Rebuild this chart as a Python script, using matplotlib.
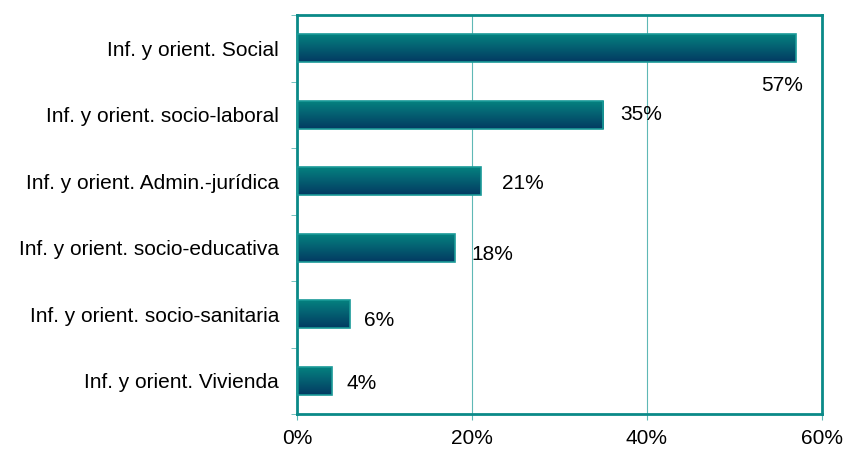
import numpy as np
import matplotlib.pyplot as plt
from matplotlib.colors import LinearSegmentedColormap
from matplotlib.ticker import FuncFormatter

plt.rcParams['font.family'] = ['Liberation Sans', 'DejaVu Sans']

categories = ["Inf. y orient. Social", "Inf. y orient. socio-laboral",
              "Inf. y orient. Admin.-jurídica", "Inf. y orient. socio-educativa",
              "Inf. y orient. socio-sanitaria", "Inf. y orient. Vivienda"]
values = [57, 35, 21, 18, 6, 4]
labels = ["57%", "35%", "21%", "18%", "6%", "4%"]
xticks = [0, 20, 40, 60]

# label placement offsets (data units) imitating the original layout
lab_dx = [-3.9, 1.9, 2.4, 1.9, 1.7, 1.6]
lab_dy = [0.56, 0.0, 0.03, 0.10, 0.10, 0.04]

teal = "#0a8a88"
cmap = LinearSegmentedColormap.from_list("bar", ["#05817f", "#033a62"])

fig = plt.figure(figsize=(8.46, 4.5), dpi=100)
ax = fig.add_axes([297 / 846, 36 / 450, 525 / 846, 399 / 450])

y = np.arange(len(categories))
bars = ax.barh(y, values, height=0.42, color="none", edgecolor="#1a9a98", linewidth=1.2, zorder=3)
grad = np.linspace(0, 1, 100).reshape(-1, 1)
for b in bars:
    x0, y0 = b.get_x(), b.get_y()
    w, h = b.get_width(), b.get_height()
    im = ax.imshow(grad, cmap=cmap, aspect="auto", extent=[x0, x0 + w, y0 + h, y0],
                   origin="upper", zorder=2)
    im.set_clip_path(b)

for yi, v, lab, dx, dy in zip(y, values, labels, lab_dx, lab_dy):
    ax.text(v + dx, yi + dy, lab, va="center", ha="left", fontsize=15)

ax.set_xlim(0, 60)
ax.set_ylim(len(categories) - 0.5, -0.5)
ax.set_xticks(xticks)
ax.xaxis.set_major_formatter(FuncFormatter(lambda v, p: f"{v:.0f}%"))
ax.set_yticks(y)
ax.set_yticklabels(categories)
ax.set_yticks(np.arange(-0.5, len(categories), 1), minor=True)
ax.tick_params(axis="y", which="major", length=0, pad=13, labelsize=15)
ax.tick_params(axis="y", which="minor", length=4, color="#5fb8b6")
ax.tick_params(axis="x", length=4, color="#5fb8b6", labelsize=15, pad=7)
ax.grid(axis="x", color="#5fb8b6", linewidth=0.8, zorder=0)
for s in ax.spines.values():
    s.set_color(teal)
    s.set_linewidth(2)
ax.set_axisbelow(True)

fig.savefig("out.png", dpi=100)
